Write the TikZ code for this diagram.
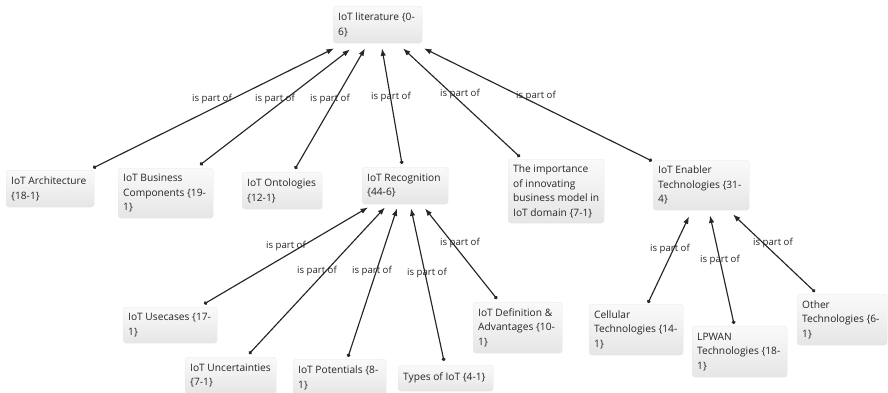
\documentclass[tikz,border=0pt]{standalone}
\usepackage{fontspec}
\setmainfont{Open Sans}
\usetikzlibrary{arrows.meta,calc}
\newcommand\bx[6]{\node[box, minimum height=#5pt, text width=#4pt-10pt] (#1) at (#2,#3) {#6};}
\begin{document}
\begin{tikzpicture}[x=1pt,y=-1pt,
  box/.style={draw=black!9, rounded corners=3pt, top color=black!2, bottom color=black!10, anchor=north west, inner xsep=5pt, inner ysep=0pt, align=flush left, font=\fontsize{10.2}{14.5}\selectfont, text=black!85},
  lbl/.style={font=\fontsize{9.6}{11}\selectfont, text=black!85, inner sep=1pt},
  rel/.style={draw=black!85, line width=1.15pt, {Circle[length=3.6pt]}-{Latex[length=7.5pt,width=5.5pt]}}
]
\useasboundingbox (0,0) rectangle (888,392);
% boxes
\bx{lit}{333}{6}{89}{37}{IoT literature \{0-\\6\}}
\bx{arch}{6}{170}{88}{37}{IoT Architecture\\\{18-1\}}
\bx{biz}{118}{168}{95}{50}{IoT Business\\Components \{19-\\1\}}
\bx{onto}{242}{172}{80}{37}{IoT Ontologies\\\{12-1\}}
\bx{recog}{362}{167}{86}{37}{IoT Recognition\\\{44-6\}}
\bx{imp}{508}{159}{96}{64}{The importance\\of innovating\\business model in\\IoT domain \{7-1\}}
\bx{enab}{653}{160}{96}{50}{IoT Enabler\\Technologies \{31-\\4\}}
\bx{use}{123}{307}{94}{36}{IoT Usecases \{17-\\1\}}
\bx{unc}{185}{357}{91}{37}{IoT Uncertainties\\\{7-1\}}
\bx{pot}{293}{359}{93}{37}{IoT Potentials \{8-\\1\}}
\bx{types}{398}{365}{95}{26}{Types of IoT \{4-1\}}
\bx{def}{473}{302}{89}{51}{IoT Definition \&\\Advantages \{10-\\1\}}
\bx{cell}{589}{304}{94}{51}{Cellular\\Technologies \{14-\\1\}}
\bx{lpwan}{692}{326}{95}{51}{LPWAN\\Technologies \{18-\\1\}}
\bx{other}{797}{294}{90}{51}{Other\\Technologies \{6-\\1\}}
% connectors to IoT literature
\draw[rel] ($(arch.north west)+(87,-2)$) -- ($(lit.south west)+(1,5)$);
\draw[rel] ($(biz.north west)+(82,-3)$) -- ($(lit.south west)+(17,6)$);
\draw[rel] ($(onto.north west)+(53,-3)$) -- ($(lit.south west)+(32,5)$);
\draw[rel] ($(recog.north west)+(40,-3)$) -- ($(lit.south west)+(49,5)$);
\draw[rel] ($(imp.north west)+(12,-2)$) -- ($(lit.south west)+(70,5)$);
\draw[rel] ($(enab.north west)+(-1,1)$) -- ($(lit.south west)+(91,5)$);
% connectors to IoT Recognition
\draw[rel] ($(use.north west)+(81,-3)$) -- ($(recog.south west)+(6,3)$);
\draw[rel] ($(unc.north west)+(64,-3)$) -- ($(recog.south west)+(23,3)$);
\draw[rel] ($(pot.north west)+(55,-2)$) -- ($(recog.south west)+(35,4)$);
\draw[rel] ($(types.north west)+(46,-4)$) -- ($(recog.south west)+(49,4)$);
\draw[rel] ($(def.north west)+(24,-3)$) -- ($(recog.south west)+(63,4)$);
% connectors to IoT Enabler Technologies
\draw[rel] ($(cell.north west)+(59,-1)$) -- ($(enab.south west)+(36,6)$);
\draw[rel] ($(lpwan.north west)+(42,-2)$) -- ($(enab.south west)+(57,5)$);
\draw[rel] ($(other.north west)+(18,-2)$) -- ($(enab.south west)+(80,4)$);
% labels
\node[lbl] (l1) at (212,99) {is part of};
\node[lbl] (l2) at (275,99) {is part of};
\node[lbl] (l3) at (330,99) {is part of};
\node[lbl] (l4) at (391,97) {is part of};
\node[lbl] (l5) at (460,94) {is part of};
\node[lbl] (l6) at (536,96) {is part of};
\node[lbl] (l7) at (286,246) {is part of};
\node[lbl] (l8) at (317,271) {is part of};
\node[lbl] (l9) at (372,271) {is part of};
\node[lbl] (l10) at (427,273) {is part of};
\node[lbl] (l11) at (460,243) {is part of};
\node[lbl] (l12) at (670,249) {is part of};
\node[lbl] (l13) at (720,260) {is part of};
\node[lbl] (l14) at (773,243) {is part of};
\end{tikzpicture}
\end{document}
